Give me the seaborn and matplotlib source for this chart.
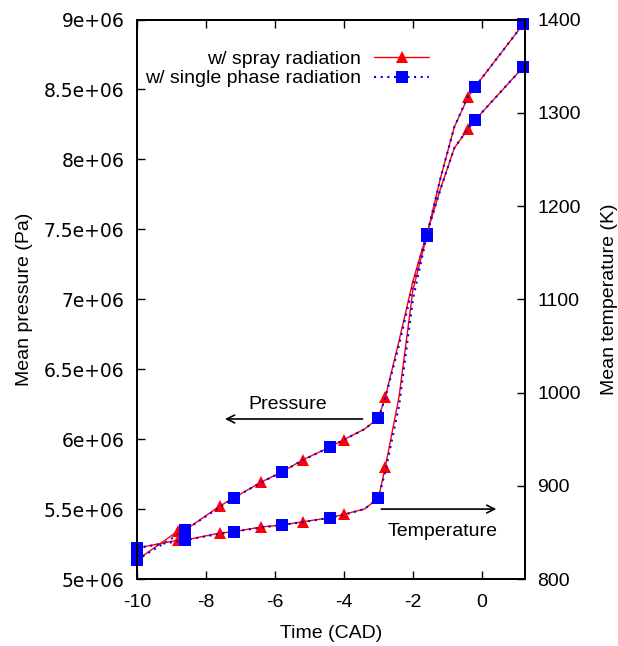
import numpy as np
import pandas as pd
import matplotlib
matplotlib.use("Agg")
import matplotlib.pyplot as plt
import seaborn as sns

sns.set_style("ticks")
plt.rcParams['font.family'] = ['Liberation Sans', 'DejaVu Sans']
plt.rcParams['font.size'] = 14
plt.rcParams['axes.unicode_minus'] = False
for k in ['text.color', 'axes.labelcolor', 'xtick.color', 'ytick.color', 'axes.edgecolor']:
    plt.rcParams[k] = 'black'

# crank angle grid (CAD)
time_cad = [-10, -8.8, -8.6, -7.6, -7.2, -6.4, -5.8, -5.2, -4.4, -4.0, -3.4,
            -3.0, -2.8, -2.4, -2.0, -1.6, -1.2, -0.8, -0.4, -0.2, 1.2]

# mean pressure (Pa)
p_spray = [5.136e6, 5.345e6, 5.350e6, 5.522e6, 5.579e6, 5.693e6, 5.765e6, 5.851e6,
           5.944e6, 5.997e6, 6.072e6, 6.151e6, 6.301e6, 6.705e6, 7.130e6, 7.466e6,
           7.790e6, 8.081e6, 8.217e6, 8.281e6, 8.660e6]
p_single = [5.136e6, 5.320e6, 5.350e6, 5.514e6, 5.579e6, 5.690e6, 5.765e6, 5.848e6,
            5.944e6, 5.995e6, 6.072e6, 6.151e6, 6.295e6, 6.675e6, 7.100e6, 7.466e6,
            7.786e6, 8.081e6, 8.221e6, 8.281e6, 8.660e6]

# mean temperature (K)
T_spray = [833.2, 841.8, 841.8, 849.3, 850.7, 855.8, 857.9, 861.4, 865.7, 869.4, 875.1,
           886.9, 920.1, 996.0, 1110.0, 1167.8, 1230.0, 1284.7, 1316.9, 1327.6, 1395.2]
T_single = [833.2, 840.6, 841.8, 848.5, 850.7, 855.2, 857.9, 861.0, 865.7, 868.8, 875.1,
            886.9, 915.0, 986.0, 1100.0, 1167.8, 1230.0, 1284.7, 1318.0, 1327.6, 1395.2]

spray_marks = [0, 1, 3, 5, 7, 9, 12, 15, 18]
single_marks = [0, 2, 4, 6, 8, 11, 15, 19, 20]

labels = ["w/ spray radiation", "w/ single phase radiation"]
p_ticklabels = ["5e+06", "5.5e+06", "6e+06", "6.5e+06", "7e+06",
                "7.5e+06", "8e+06", "8.5e+06", "9e+06"]

fig = plt.figure(figsize=(6.18, 6.46), dpi=100)
ax = fig.add_axes([0.2217, 0.1037, 0.6278, 0.8661])
ax2 = ax.twinx()

red_kw = dict(color="red", linewidth=1, marker="^", markersize=8.5, markeredgewidth=0,
              clip_on=False)
blue_kw = dict(color="blue", linewidth=1.5, linestyle=(0, (1, 2.2)), marker="s",
               markersize=8.5, markeredgewidth=0, clip_on=False)

sns.lineplot(x=time_cad, y=p_spray, ax=ax, sort=False, markevery=spray_marks, **red_kw)
sns.lineplot(x=time_cad, y=p_single, ax=ax, sort=False, markevery=single_marks, **blue_kw)
sns.lineplot(x=time_cad, y=T_spray, ax=ax2, sort=False, markevery=spray_marks, **red_kw)
sns.lineplot(x=time_cad, y=T_single, ax=ax2, sort=False, markevery=single_marks, **blue_kw)

ax.set_xlim(-10, 1.25)
ax.set_ylim(5e6, 9e6)
ax2.set_ylim(800, 1400)
ax.set_xticks([-10, -8, -6, -4, -2, 0])
ax.set_yticks(np.arange(5e6, 9.01e6, 0.5e6))
ax.set_yticklabels(p_ticklabels, family="DejaVu Sans", fontsize=13.5)
ax2.set_yticks([800, 900, 1000, 1100, 1200, 1300, 1400])

ax.set_xlabel("Time (CAD)", labelpad=10)
ax.set_ylabel("Mean pressure (Pa)", labelpad=8)
ax2.set_ylabel("Mean temperature (K)", labelpad=14)

ax.tick_params(axis="x", direction="in", length=6, width=1, top=True, pad=11)
ax.tick_params(axis="y", direction="in", length=6, width=1, right=False, pad=9)
ax2.tick_params(axis="y", direction="in", length=6, width=1, pad=9)
for a in (ax, ax2):
    for s in a.spines.values():
        s.set_linewidth(1.4)

ax.annotate("", xy=(-7.53, 6.144e6), xytext=(-3.38, 6.144e6),
            arrowprops=dict(arrowstyle="->", color="black", lw=1.2))
ax.text(-5.64, 6.25e6, "Pressure", ha="center", va="center")
ax.annotate("", xy=(0.5, 5.5e6), xytext=(-3.0, 5.5e6),
            arrowprops=dict(arrowstyle="->", color="black", lw=1.2))
ax.text(-1.15, 5.343e6, "Temperature", ha="center", va="center")

handles = [ax.lines[0], ax.lines[1]]
ax.legend(handles, labels, loc="center right", bbox_to_anchor=(0.752, 0.912),
          frameon=False, markerfirst=False, handlelength=2.8, handletextpad=0.7,
          labelspacing=0.1, borderpad=0, borderaxespad=0, fontsize=14)
if ax2.get_legend() is not None:
    ax2.get_legend().remove()

fig.savefig("out.png", dpi=100)
